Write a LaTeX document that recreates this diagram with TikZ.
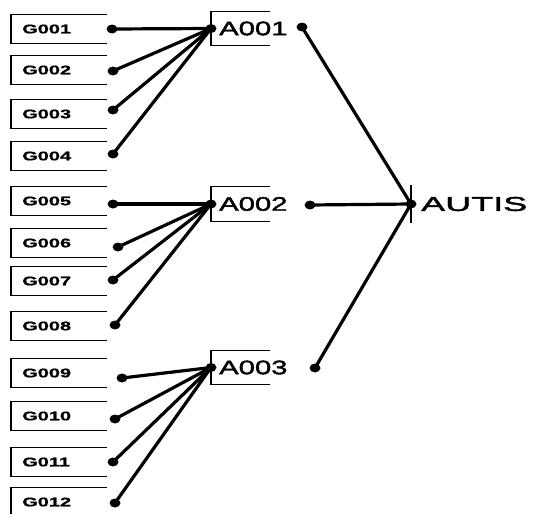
\documentclass[tikz,border=0pt]{standalone}
\usepackage{fontspec}
\usetikzlibrary{positioning}
\newfontfamily\gfont[FakeStretch=1.6,FakeBold=1]{Liberation Sans Bold}
\newfontfamily\afont[FakeStretch=1.5,FakeBold=2]{Liberation Sans}
\newfontfamily\tfont[FakeStretch=1.8,FakeBold=2]{Liberation Sans}

\tikzset{
  gbox/.style={anchor=west, minimum height=28pt, text width=74pt, inner xsep=11pt,
    inner ysep=0pt, align=left, font=\gfont\fontsize{12.5}{13}\selectfont},
  abox/.style={anchor=west, minimum width=59pt, minimum height=34pt, inner sep=0pt},
  alabel/.style={anchor=west, inner sep=0pt, font=\afont\fontsize{19.5}{20}\selectfont},
  wire/.style={line width=3.2pt},
  rim/.style={line width=1.3pt},
  blob/.style={x radius=5.5pt, y radius=4.5pt}
}

\begin{document}
\begin{tikzpicture}[x=1pt, y=-1pt]
  \useasboundingbox (0,0) rectangle (536,514);

  % gruppi A, aperti a destra
  \foreach \k/\y/\ox/\oy in {1/28.5/302/27, 2/204/310/205, 3/367.5/315/368} {
    \node[abox] (ab\k) at (211,\y) {};
    \draw[rim] (ab\k.north east) -| (ab\k.south west) -- (ab\k.south east);
    \node[alabel, right=8pt of ab\k.west] (a\k) {A00\k};
    \coordinate (ao\k) at (\ox,\oy);
  }

  % nodo finale
  \coordinate (hub) at (411,204);
  \node[anchor=west, inner sep=0pt, font=\tfont\fontsize{20}{21}\selectfont, right=10pt of hub] (autis) {AUTIS};
  \draw[rim] (hub) ++(0,-19) -- ++(0,38);

  % caselle G e collegamenti verso A
  \foreach \i/\txt/\y/\dx/\dy/\k in {1/G001/29/112/29/1, 2/G002/70/113/71/1,
      3/G003/114/113/110/1, 4/G004/156/113/154/1, 5/G005/201/113/204/2,
      6/G006/243/118/247/2, 7/G007/281/113/280/2, 8/G008/326/115/325/2,
      9/G009/373/122/378/3, 10/G010/416/115/419/3, 11/G011/462/113/462/3,
      12/G012/502/115/503/3} {
    \node[gbox] (g\i) at (11,\y) {\txt};
    \draw[rim] (g\i.north east) -| (g\i.south west) -- (g\i.south east);
    \coordinate (d\i) at (\dx,\dy);
    \draw[wire] (d\i) -- (ab\k.west);
    \fill (d\i) ellipse[blob];
  }

  % da A verso AUTIS
  \foreach \k in {1,2,3} {
    \draw[wire] (ao\k) -- (hub);
    \fill (ao\k) ellipse[blob];
    \fill (ab\k.west) ellipse[blob];
  }
  \fill (hub) ellipse[blob];
\end{tikzpicture}
\end{document}
